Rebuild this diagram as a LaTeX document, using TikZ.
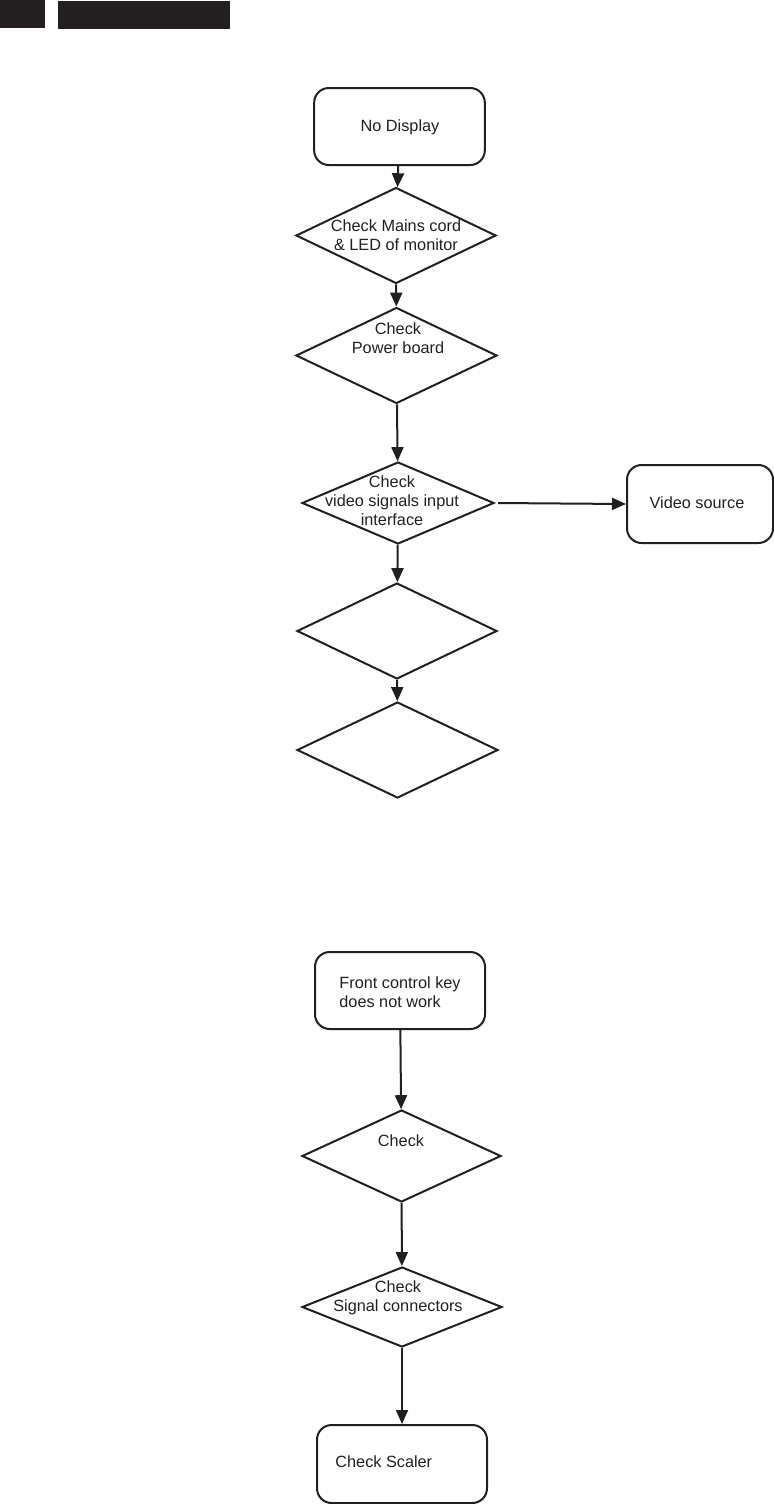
\documentclass[tikz,border=0pt]{standalone}
\usepackage{fontspec}
\setmainfont{Liberation Sans}
\usetikzlibrary{arrows.meta,shapes.geometric}
\definecolor{inkdark}{HTML}{231F20}

\begin{document}
\begin{tikzpicture}[x=0.75pt,y=-0.75pt,font=\fontsize{12.2pt}{14.25pt}\selectfont,
    every path/.style={inkdark,line width=1.5pt},
    rbox/.style={draw,rounded corners=11pt,inner sep=0pt,minimum width=128pt,minimum height=58pt},
    dia/.style={draw,diamond,inner sep=0pt,minimum width=150pt,minimum height=72pt},
    flow/.style={-{Triangle[length=10.5pt,width=9pt]}}]
        \useasboundingbox (0,0) rectangle (774,1504);
        % header bars
        \fill[inkdark] (0,0) rectangle (45,28);
        \fill[inkdark] (58,1) rectangle (230,29);
        % no display chart
        \node[rbox,minimum height=57.75pt] (nodisp) at (399.5,126.5) {};
        \node (tnodisp) at (400,127) {No Display};
        \node[dia] (mains) at (396,235.5) {};
        \node[align=center] (tmains) at (396,235.5) {Check Mains cord\\\& LED of monitor};
        \node[dia,minimum width=150.75pt] (power) at (396.5,355.5) {};
        \node[align=center] (tpower) at (398,338) {Check\\Power board};
        \node[dia,minimum width=144pt,minimum height=61.5pt] (video) at (398,503) {};
        \node[align=center] (tvideo) at (392,501) {Check\\video signals input\\interface};
        \node[rbox,minimum width=109.5pt,minimum height=58.5pt] (vsrc) at (700,504) {};
        \node (tvsrc) at (697,503) {Video source};
        \node[dia] (blanka) at (397,631) {};
        \node[dia,minimum width=150.75pt] (blankb) at (397.5,750) {};
        \draw[flow] (nodisp) -- (mains);
        \draw[flow] (mains) -- (power);
        \draw[flow] (power) -- (video);
        \draw[flow] (video.east) ++(3,0) coordinate (vout) -- (vsrc.west);
        \draw[flow] (video) -- (blanka);
        \draw[flow] (blanka) -- (blankb);
        % front key chart
        \node[rbox,minimum width=127.5pt,minimum height=57.75pt] (front) at (400,990.5) {};
        \node[anchor=west,align=left] (tfront) at (334,992) {Front control key\\does not work};
        \node[dia,minimum width=149.25pt,minimum height=69pt] (chk) at (401.5,1156) {};
        \node (tchk) at (401,1141) {Check};
        \node[dia,minimum height=60pt] (sigcon) at (402,1307) {};
        \node[align=center] (tsigcon) at (398,1297.5) {Check\\Signal connectors};
        \node[rbox,minimum width=127.5pt,minimum height=58.5pt] (scaler) at (402,1464) {};
        \node[anchor=west] (tscaler) at (330,1462) {Check Scaler};
        \draw[flow] (front) -- (chk);
        \draw[flow] (chk) -- (sigcon);
        \draw[flow] (sigcon) -- (scaler);
      \end{tikzpicture}
\end{document}
